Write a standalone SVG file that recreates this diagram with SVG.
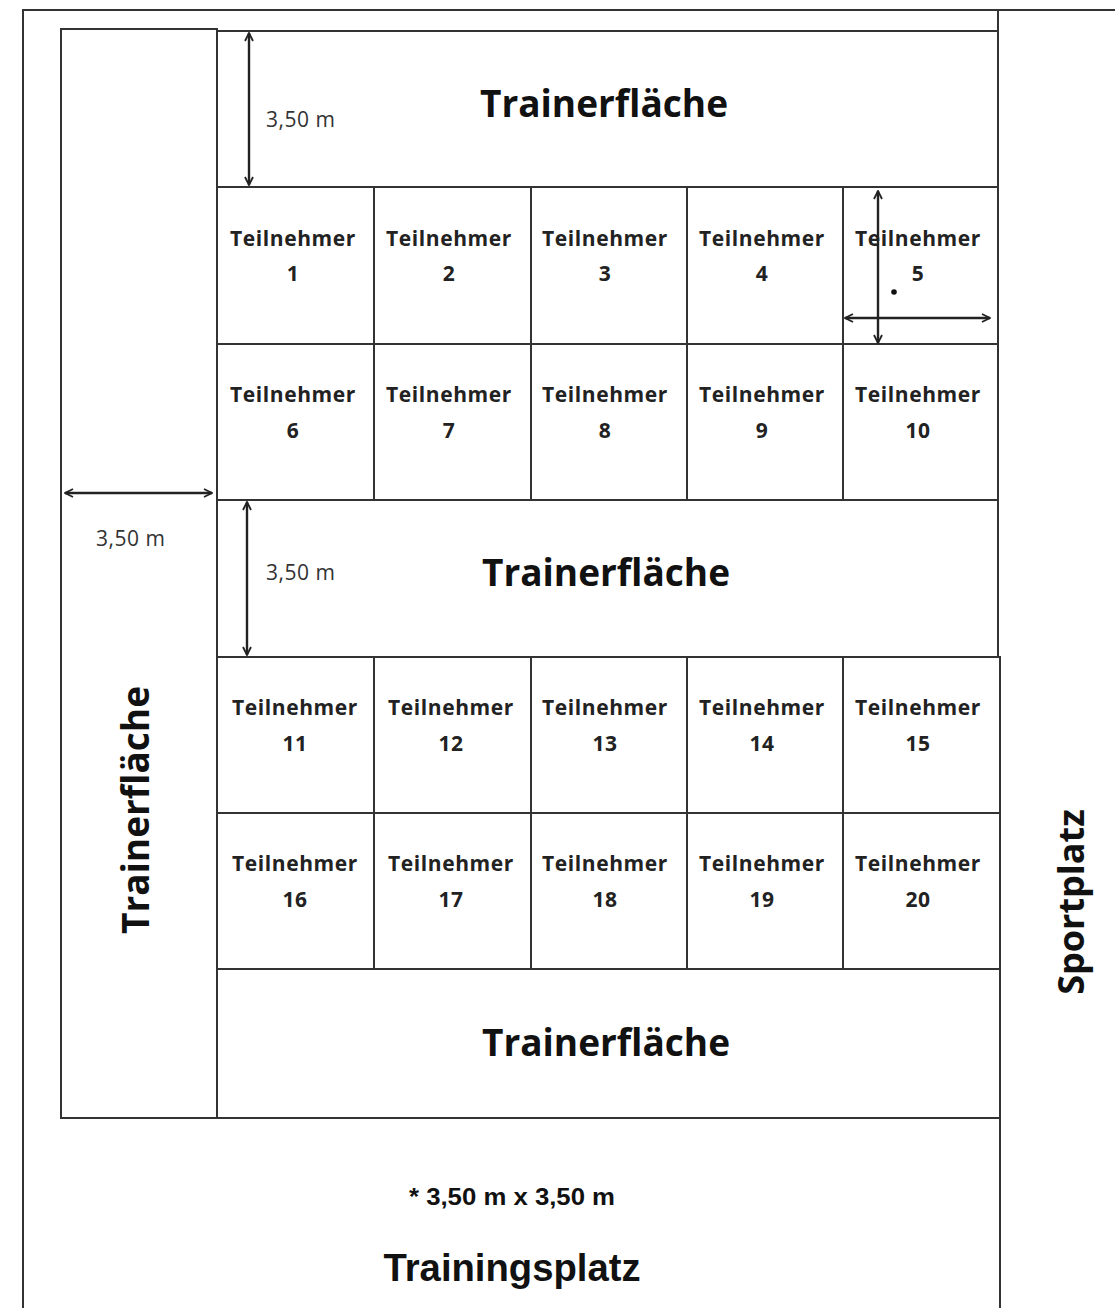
<svg xmlns="http://www.w3.org/2000/svg" width="1115" height="1308" viewBox="0 0 1115 1308">
<style>
.ln{stroke:#333;stroke-width:2;fill:none}
.cell{stroke:#333;stroke-width:2;fill:#fff}
.tn{font-family:"Open Sans","Liberation Sans",sans-serif;font-weight:bold;font-size:21px;letter-spacing:0.6px;fill:#222;text-anchor:middle}
.big{font-family:"Open Sans","Liberation Sans",sans-serif;font-weight:bold;font-size:37px;fill:#111;text-anchor:middle}
.dim{font-family:"Open Sans","Liberation Sans",sans-serif;font-size:21px;letter-spacing:0.5px;fill:#333}
.foot{font-family:"Liberation Sans",sans-serif;font-weight:bold;fill:#111;text-anchor:middle}
.arr{stroke:#222;stroke-width:2.4;fill:none;marker-start:url(#ah);marker-end:url(#ah)}
</style>
<defs>
<marker id="ah" viewBox="0 0 10 10" refX="9" refY="5" markerWidth="10" markerHeight="10" orient="auto-start-reverse" markerUnits="userSpaceOnUse">
<path d="M1,1 L9,5 L1,9" fill="none" stroke="#222" stroke-width="1.8"/>
</marker>
</defs>
<rect width="1115" height="1308" fill="#fff"/>
<g id="frame">
<path class="ln" d="M23,1308 V10 H1115"/>
<path class="ln" d="M998,10 V657 M1000,657 V1308"/>
</g>
<g id="trainer-left">
<rect class="cell" x="61" y="29" width="156" height="1089"/>
<text class="big" transform="translate(149,810) rotate(-90)">Trainerfläche</text>
</g>
<g id="trainer-top">
<rect class="cell" x="217" y="31" width="781" height="156"/>
<text class="big" x="604" y="117">Trainerfläche</text>
</g>
<g id="trainer-mid">
<rect class="cell" x="217" y="500" width="781" height="157"/>
<text class="big" x="606" y="586">Trainerfläche</text>
</g>
<g id="trainer-bottom">
<rect class="cell" x="217" y="969" width="783" height="149"/>
<text class="big" x="606" y="1056">Trainerfläche</text>
</g>
<g id="t1"><rect class="cell" x="217" y="187" width="157" height="157"/><text class="tn" x="293" y="246">Teilnehmer</text><text class="tn" x="293" y="281">1</text></g>
<g id="t2"><rect class="cell" x="374" y="187" width="157" height="157"/><text class="tn" x="449" y="246">Teilnehmer</text><text class="tn" x="449" y="281">2</text></g>
<g id="t3"><rect class="cell" x="531" y="187" width="156" height="157"/><text class="tn" x="605" y="246">Teilnehmer</text><text class="tn" x="605" y="281">3</text></g>
<g id="t4"><rect class="cell" x="687" y="187" width="156" height="157"/><text class="tn" x="762" y="246">Teilnehmer</text><text class="tn" x="762" y="281">4</text></g>
<g id="t5"><rect class="cell" x="843" y="187" width="155" height="157"/><text class="tn" x="918" y="246">Teilnehmer</text><text class="tn" x="918" y="281">5</text><circle cx="894" cy="292" r="2.8" fill="#111"/></g>
<g id="t6"><rect class="cell" x="217" y="344" width="157" height="156"/><text class="tn" x="293" y="402">Teilnehmer</text><text class="tn" x="293" y="438">6</text></g>
<g id="t7"><rect class="cell" x="374" y="344" width="157" height="156"/><text class="tn" x="449" y="402">Teilnehmer</text><text class="tn" x="449" y="438">7</text></g>
<g id="t8"><rect class="cell" x="531" y="344" width="156" height="156"/><text class="tn" x="605" y="402">Teilnehmer</text><text class="tn" x="605" y="438">8</text></g>
<g id="t9"><rect class="cell" x="687" y="344" width="156" height="156"/><text class="tn" x="762" y="402">Teilnehmer</text><text class="tn" x="762" y="438">9</text></g>
<g id="t10"><rect class="cell" x="843" y="344" width="155" height="156"/><text class="tn" x="918" y="402">Teilnehmer</text><text class="tn" x="918" y="438">10</text></g>
<g id="t11"><rect class="cell" x="217" y="657" width="157" height="156"/><text class="tn" x="295" y="715">Teilnehmer</text><text class="tn" x="295" y="751">11</text></g>
<g id="t12"><rect class="cell" x="374" y="657" width="157" height="156"/><text class="tn" x="451" y="715">Teilnehmer</text><text class="tn" x="451" y="751">12</text></g>
<g id="t13"><rect class="cell" x="531" y="657" width="156" height="156"/><text class="tn" x="605" y="715">Teilnehmer</text><text class="tn" x="605" y="751">13</text></g>
<g id="t14"><rect class="cell" x="687" y="657" width="156" height="156"/><text class="tn" x="762" y="715">Teilnehmer</text><text class="tn" x="762" y="751">14</text></g>
<g id="t15"><rect class="cell" x="843" y="657" width="157" height="156"/><text class="tn" x="918" y="715">Teilnehmer</text><text class="tn" x="918" y="751">15</text></g>
<g id="t16"><rect class="cell" x="217" y="813" width="157" height="156"/><text class="tn" x="295" y="871">Teilnehmer</text><text class="tn" x="295" y="907">16</text></g>
<g id="t17"><rect class="cell" x="374" y="813" width="157" height="156"/><text class="tn" x="451" y="871">Teilnehmer</text><text class="tn" x="451" y="907">17</text></g>
<g id="t18"><rect class="cell" x="531" y="813" width="156" height="156"/><text class="tn" x="605" y="871">Teilnehmer</text><text class="tn" x="605" y="907">18</text></g>
<g id="t19"><rect class="cell" x="687" y="813" width="156" height="156"/><text class="tn" x="762" y="871">Teilnehmer</text><text class="tn" x="762" y="907">19</text></g>
<g id="t20"><rect class="cell" x="843" y="813" width="157" height="156"/><text class="tn" x="918" y="871">Teilnehmer</text><text class="tn" x="918" y="907">20</text></g>
<g id="connectors">
<line class="arr" x1="249" y1="33" x2="249" y2="185"/>
<line class="arr" x1="65" y1="493" x2="212" y2="493"/>
<line class="arr" x1="247" y1="502" x2="247" y2="655"/>
<line class="arr" x1="878" y1="191" x2="878" y2="343"/>
<line class="arr" x1="845" y1="318" x2="990" y2="318"/>
</g>
<g id="labels">
<text class="dim" x="266" y="127">3,50 m</text>
<text class="dim" x="96" y="546">3,50 m</text>
<text class="dim" x="266" y="580">3,50 m</text>
<text class="big" transform="translate(1084,902) rotate(-90)" style="font-size:36px">Sportplatz</text>
<text class="foot" x="512" y="1205" style="font-size:24px" textLength="206" lengthAdjust="spacingAndGlyphs">* 3,50 m x 3,50 m</text>
<text class="foot" x="512" y="1281" style="font-size:39px" textLength="257" lengthAdjust="spacingAndGlyphs">Trainingsplatz</text>
</g>
</svg>
